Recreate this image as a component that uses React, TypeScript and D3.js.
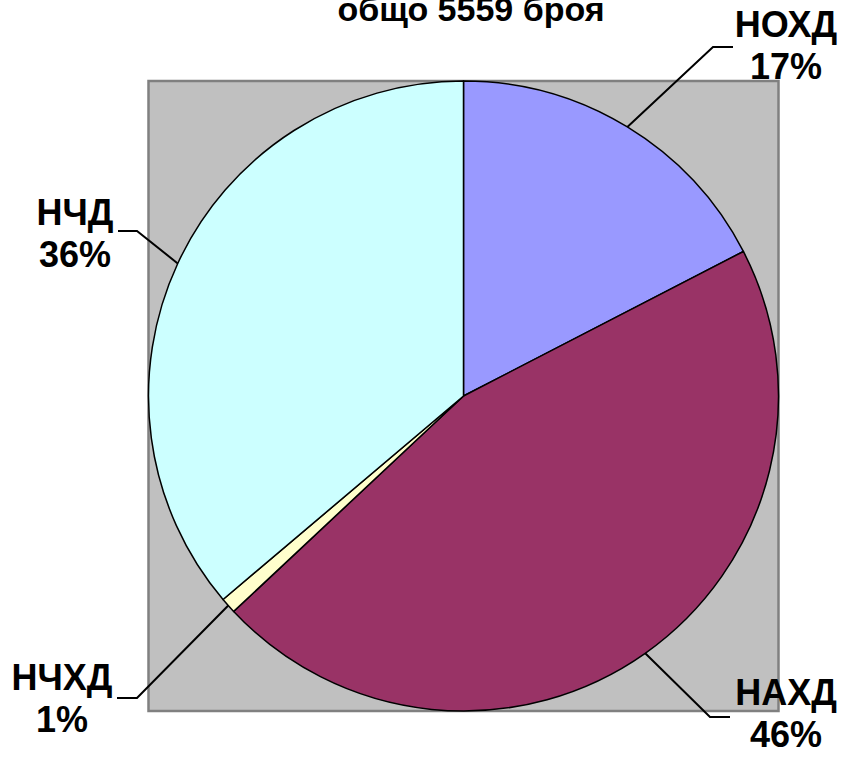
import * as d3 from "d3";

// slice data, clockwise from 12 o'clock
const categories = ["НОХД", "НАХД", "НЧХД", "НЧД"];
const counts = [968, 2535, 45, 2011];
const percentLabels = ["17%", "46%", "1%", "36%"];
const sliceColors = ["#9999FF", "#993366", "#FFFFCC", "#CCFFFF"];
const titleText = "общо 5559 броя";

// where each label sits: elbow of the leader, end of leader, text centre x, first baseline
const labelLayout = [
  { elbow: [713, 47], end: [733, 47], tx: 786, ty: 37 },
  { elbow: [710, 717], end: [730, 717], tx: 786, ty: 705 },
  { elbow: [137, 698], end: [117, 698], tx: 62, ty: 690 },
  { elbow: [137, 231], end: [118, 231], tx: 75, ty: 225 },
];

const W = 846;
const H = 760;
const cx = 463.5;
const cy = 396;
const radius = 315;
const font = "'Liberation Sans', Arial, sans-serif";

export default function App() {
  const pie = d3
    .pie<number>()
    .sort(null)
    .value((d) => d)
    .startAngle(0)
    .endAngle(2 * Math.PI);
  const arcs = pie(counts);
  const arc = d3.arc<d3.PieArcDatum<number>>().innerRadius(0).outerRadius(radius);

  return (
    <svg
      width={W}
      height={H}
      style={{ position: "absolute", left: 0, top: 0, background: "#fff" }}
      fontFamily={font}
    >
      <rect
        x={cx - radius}
        y={cy - radius}
        width={radius * 2}
        height={radius * 2}
        fill="#C0C0C0"
        stroke="#808080"
        strokeWidth={2.5}
      />
      <g transform={`translate(${cx},${cy})`}>
        {arcs.map((a, i) => (
          <path
            key={categories[i]}
            d={arc(a)!}
            fill={sliceColors[i]}
            stroke="#000"
            strokeWidth={1.5}
            strokeLinejoin="round"
          />
        ))}
      </g>
      <text x={471} y={21} textAnchor="middle" fontSize={34} fontWeight="bold">
        {titleText}
      </text>
      {arcs.map((a, i) => {
        const mid = (a.startAngle + a.endAngle) / 2;
        const px = cx + radius * Math.sin(mid);
        const py = cy - radius * Math.cos(mid);
        const L = labelLayout[i];
        return (
          <g key={"lbl" + i}>
            <polyline
              points={`${px},${py} ${L.elbow[0]},${L.elbow[1]} ${L.end[0]},${L.end[1]}`}
              fill="none"
              stroke="#000"
              strokeWidth={2}
            />
            <text x={L.tx} y={L.ty} textAnchor="middle" fontSize={36} fontWeight="bold">
              {categories[i]}
            </text>
            <text x={L.tx} y={L.ty + 42} textAnchor="middle" fontSize={36} fontWeight="bold">
              {percentLabels[i]}
            </text>
          </g>
        );
      })}
    </svg>
  );
}
